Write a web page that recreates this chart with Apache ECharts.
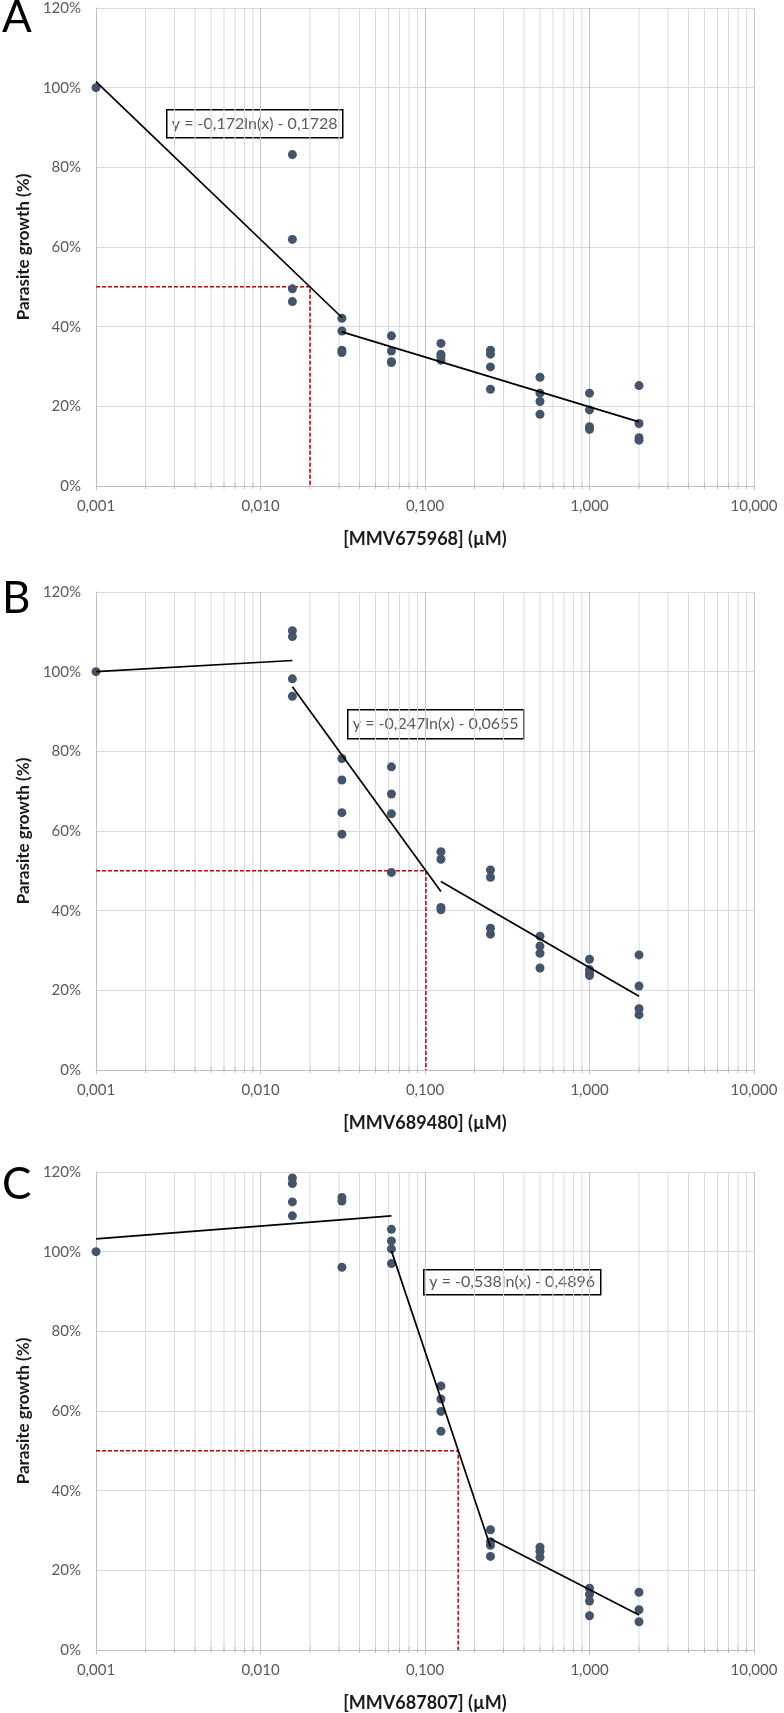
<!DOCTYPE html>
<html>
<head>
<meta charset="utf-8">
<script src="https://cdn.jsdelivr.net/npm/echarts@6/dist/echarts.min.js"></script>
<style>
  html, body { margin: 0; padding: 0; background: #fff; }
  #main { width: 784px; height: 1713px; }
</style>
</head>
<body>
<div id="main"></div>
<script>
// concentrations (µM), 0.001 is the untreated control
var conc = [0.001, 0.015625, 0.03125, 0.0625, 0.125, 0.25, 0.5, 1, 2];

// replicate growth values (%) per concentration
var growthA = [
  [100],
  [83.2, 61.9, 49.5, 46.3],
  [42.1, 38.9, 34.1, 33.5],
  [37.7, 33.9, 31.2, 31.0],
  [35.8, 33.1, 32.5, 31.6],
  [34.1, 33.1, 29.9, 24.3],
  [27.3, 23.3, 21.2, 18.0],
  [23.3, 19.1, 14.9, 14.2],
  [25.2, 15.7, 12.1, 11.5]
];
var growthB = [
  [100],
  [110.3, 108.8, 98.2, 93.8],
  [78.2, 72.8, 64.6, 59.2],
  [76.1, 69.3, 64.3, 49.6],
  [54.8, 52.9, 40.8, 40.2],
  [50.2, 48.4, 35.6, 34.1],
  [33.6, 31.1, 29.3, 25.6],
  [27.8, 25.2, 24.3, 23.7],
  [28.9, 21.1, 15.4, 13.9]
];
var growthC = [
  [100],
  [118.5, 117.1, 112.5, 109.0],
  [113.6, 112.7, 96.1],
  [105.6, 102.7, 100.7, 97.0],
  [66.3, 63.0, 59.9, 54.9],
  [30.2, 27.2, 26.3, 23.5],
  [25.8, 24.8, 23.3],
  [15.5, 14.0, 12.3, 8.6],
  [14.5, 10.1, 7.1]
];

// trend line segments [[x0,y0],[x1,y1]]
var trendA = [
  [[0.001, 101.5], [0.03125, 42.3]],
  [[0.03125, 38.7], [2, 16.1]]
];
var trendB = [
  [[0.001, 100], [0.015625, 102.8]],
  [[0.015625, 96.2], [0.125, 44.8]],
  [[0.125, 47.3], [2, 18.5]]
];
var trendC = [
  [[0.001, 103.2], [0.0625, 109.0]],
  [[0.0625, 100.2], [0.25, 25.9]],
  [[0.25, 27.9], [2, 8.8]]
];

// IC50 read from the red guides
var ic50 = [0.0200, 0.1013, 0.159];

var equations = ['y = -0,172ln(x) - 0,1728', 'y = -0,247ln(x) - 0,0655', 'y = -0,538ln(x) - 0,4896'];
var compounds = ['[MMV675968] (µM)', '[MMV689480] (µM)', '[MMV687807] (µM)'];
var letters = ['A', 'B', 'C'];

// minor gridlines at 2..9 x each decade
var minorX = [];
[0.001, 0.01, 0.1, 1].forEach(function (d) {
  for (var k = 2; k <= 9; k++) minorX.push(+(d * k).toPrecision(3));
});

var FONT = 'Lato, "Open Sans", sans-serif';
var gridTops = [8, 592, 1172];
var gridH = 478;
var boxes = [[166, 109, 176, 28], [347, 709, 176, 29], [423, 1269, 177, 25]];
var letterTops = [-4, 577, 1163];

var sets = [growthA, growthB, growthC];
var trends = [trendA, trendB, trendC];

var myChart = echarts.init(document.getElementById('main'), null, { renderer: 'canvas' });

var grids = [], xAxes = [], yAxes = [], series = [], graphics = [];

for (var i = 0; i < 3; i++) {
  grids.push({ left: 96, right: 30, top: gridTops[i], height: gridH, containLabel: false });

  xAxes.push({
    type: 'log', logBase: 10, min: 0.001, max: 10, gridIndex: i,
    name: compounds[i], nameLocation: 'middle', nameGap: 44,
    nameTextStyle: { fontFamily: FONT, fontSize: 18, fontWeight: 'bold', color: '#1a1a1a' },
    axisLine: { show: true, lineStyle: { color: '#bfbfbf', width: 1 } },
    axisTick: { show: true, length: 4, lineStyle: { color: '#bfbfbf' } },
    splitLine: { show: true, lineStyle: { color: '#c4c4c4', width: 1 } },
    axisLabel: {
      fontFamily: FONT, fontSize: 15, color: '#595959', margin: 13,
      formatter: function (v) { return v.toFixed(3).replace('.', ','); }
    }
  });

  yAxes.push({
    type: 'value', min: 0, max: 120, interval: 20, gridIndex: i,
    name: 'Parasite growth (%)', nameLocation: 'middle', nameGap: 62,
    nameTextStyle: { fontFamily: FONT, fontSize: 17, fontWeight: 'bold', color: '#1a1a1a' },
    axisLine: { show: true, lineStyle: { color: '#bfbfbf', width: 1 } },
    axisTick: { show: false },
    splitLine: { show: true, lineStyle: { color: '#d9d9d9', width: 1 } },
    axisLabel: { fontFamily: FONT, fontSize: 15, color: '#595959', margin: 15, formatter: '{value}%' }
  });

  // minor vertical gridlines + small ticks through the library scales
  series.push({
    type: 'custom', xAxisIndex: i, yAxisIndex: i, silent: true, z: 0,
    data: minorX,
    renderItem: function (params, api) {
      var v = api.value(0);
      var top = api.coord([v, 120]);
      var bot = api.coord([v, 0]);
      return {
        type: 'group',
        children: [
          { type: 'line', shape: { x1: top[0], y1: top[1], x2: bot[0], y2: bot[1] }, style: { stroke: '#d9d9d9', lineWidth: 1 } },
          { type: 'line', shape: { x1: bot[0], y1: bot[1] - 3, x2: bot[0], y2: bot[1] + 3 }, style: { stroke: '#bfbfbf', lineWidth: 1 } }
        ]
      };
    },
    encode: { x: 0 },
    animation: false
  });

  // IC50 guides
  series.push({
    type: 'line', xAxisIndex: i, yAxisIndex: i, silent: true, z: 3,
    data: [[0.001, 50], [ic50[i], 50], [ic50[i], 0]],
    symbol: 'none',
    lineStyle: { color: '#c00000', width: 1.5, type: [4, 2] },
    animation: false
  });

  // trend segments
  trends[i].forEach(function (seg) {
    series.push({
      type: 'line', xAxisIndex: i, yAxisIndex: i, silent: true, z: 5,
      data: seg, symbol: 'none',
      lineStyle: { color: '#000', width: 1.7 },
      animation: false
    });
  });

  // replicates
  var pts = [];
  sets[i].forEach(function (vals, j) {
    vals.forEach(function (v) { pts.push([conc[j], v]); });
  });
  series.push({
    type: 'scatter', xAxisIndex: i, yAxisIndex: i, z: 4,
    data: pts, symbol: 'circle', symbolSize: 9,
    itemStyle: { color: '#44546a', opacity: 1 },
    animation: false
  });

  var b = boxes[i];
  graphics.push({
    type: 'group', left: b[0], top: b[1], z: 10,
    children: [
      { type: 'rect', shape: { x: 0, y: 0, width: b[2], height: b[3] }, style: { fill: '#fff', stroke: '#000', lineWidth: 1.5 } },
      { type: 'text', x: b[2] / 2, y: b[3] / 2, style: { text: equations[i], fill: '#595959', font: '16px ' + FONT, align: 'center', verticalAlign: 'middle' } }
    ]
  });
  graphics.push({
    type: 'text', left: 2, top: letterTops[i], z: 10,
    style: { text: letters[i], fill: '#000', font: '44px ' + FONT }
  });
}

myChart.setOption({
  backgroundColor: '#fff',
  animation: false,
  grid: grids,
  xAxis: xAxes,
  yAxis: yAxes,
  series: series,
  graphic: graphics
});
</script>
</body>
</html>
